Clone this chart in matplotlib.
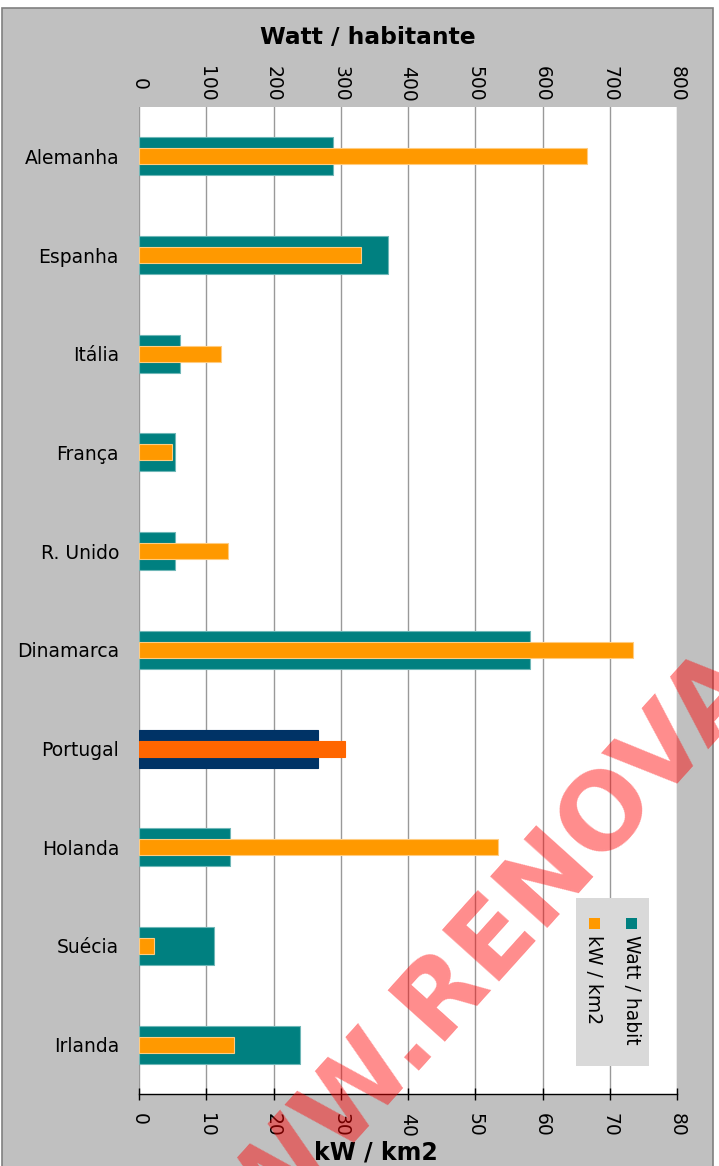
import numpy as np
import matplotlib.pyplot as plt
from matplotlib.patches import Rectangle

countries = ['Alemanha', 'Espanha', 'Itália', 'França', 'R. Unido',
             'Dinamarca', 'Portugal', 'Holanda', 'Suécia', 'Irlanda']
watt_hab = [288, 370, 61, 53, 53, 581, 266, 135, 111, 239]
kw_km2 = [66.6, 33.0, 12.2, 4.9, 13.2, 73.5, 30.6, 53.4, 2.2, 14.1]

watt_ticks = np.arange(0, 801, 100)
kw_ticks = np.arange(0, 81, 10)

teal = '#008080'
orange = '#FF9900'
# Portugal is highlighted
col_w = ['#003366' if c == 'Portugal' else teal for c in countries]
col_k = ['#FF6600' if c == 'Portugal' else orange for c in countries]
edge_w = ['#003366' if c == 'Portugal' else '#6FB7B7' for c in countries]
edge_k = ['#FF6600' if c == 'Portugal' else '#FFCC80' for c in countries]

W, H = 719, 1166
fig = plt.figure(figsize=(W / 100, H / 100), dpi=100)
fig.patch.set_facecolor('white')

# grey chart panel
fig.patches.append(Rectangle((2 / W, -0.02), 711 / W, (H - 8) / H + 0.02,
                             transform=fig.transFigure, facecolor='#C0C0C0',
                             edgecolor='#808080', linewidth=1.2, zorder=-5))

ax = fig.add_axes([139 / W, 72 / H, 538 / W, 987 / H])
ax2 = ax.twiny()
ax.set_facecolor('white')
y = np.arange(len(countries))

ax.barh(y, watt_hab, height=0.385, color=col_w, edgecolor=edge_w, linewidth=0.8, zorder=2)
ax.set_xlim(0, 800)
ax.set_ylim(len(countries) - 0.5, -0.5)
ax.xaxis.set_ticks_position('top')
ax.set_xticks(watt_ticks)
ax.set_xticklabels([str(t) for t in watt_ticks], rotation=-90, va='center', fontsize=13.5)
ax.tick_params(axis='x', length=0, pad=16.5)
ax.set_yticks(y)
ax.set_yticklabels(countries, fontsize=13.5)
ax.tick_params(axis='y', length=0, pad=14.4)
ax.grid(axis='x', color='#999999', linewidth=1.0)
ax.set_axisbelow(True)
for s in ax.spines.values():
    s.set_visible(False)

ax2.barh(y, kw_km2, height=0.162, color=col_k, edgecolor=edge_k, linewidth=0.8, zorder=3)
ax2.set_xlim(0, 80)
ax2.set_ylim(len(countries) - 0.5, -0.5)
ax2.xaxis.set_ticks_position('bottom')
ax2.set_xticks(kw_ticks)
ax2.set_xticklabels([str(t) for t in kw_ticks], rotation=-90, va='top', fontsize=13.5)
ax2.tick_params(axis='x', direction='inout', length=8, width=1, pad=10, colors='black')
for name, s in ax2.spines.items():
    s.set_visible(name == 'bottom')
ax2.spines['bottom'].set_color('black')
ax2.spines['bottom'].set_linewidth(1.0)

fig.text(368 / W, 1 - 37 / H, 'Watt / habitante', fontsize=16.8, fontweight='bold',
         ha='center', va='center')
fig.text(376 / W, 1 - 1152 / H, 'kW / km2', fontsize=17, fontweight='bold',
         ha='center', va='center')

# legend, rotated like the rest of the chart
fig.patches.append(Rectangle((576 / W, 1 - 1066 / H), 73 / W, 168 / H,
                             transform=fig.transFigure, facecolor='#D9D9D9',
                             edgecolor='none', zorder=5))
for cx, colr, lab in [(631.5, teal, 'Watt / habit'), (594, orange, 'kW / km2')]:
    fig.patches.append(Rectangle(((cx - 5.5) / W, 1 - 929 / H), 11 / W, 11 / H,
                                 transform=fig.transFigure, facecolor=colr,
                                 edgecolor='none', zorder=6))
    fig.text(cx / W, 1 - 935 / H, lab, rotation=-90, fontsize=13.5,
             ha='center', va='top', zorder=6)

# watermark
fig.text(452 / W, 1 - 988 / H, 'WWW.RENOVA', rotation=48, rotation_mode='anchor',
         fontsize=76, fontweight='bold', color='red', alpha=0.45,
         ha='center', va='center', zorder=10)

fig.savefig('out.png', dpi=100)
